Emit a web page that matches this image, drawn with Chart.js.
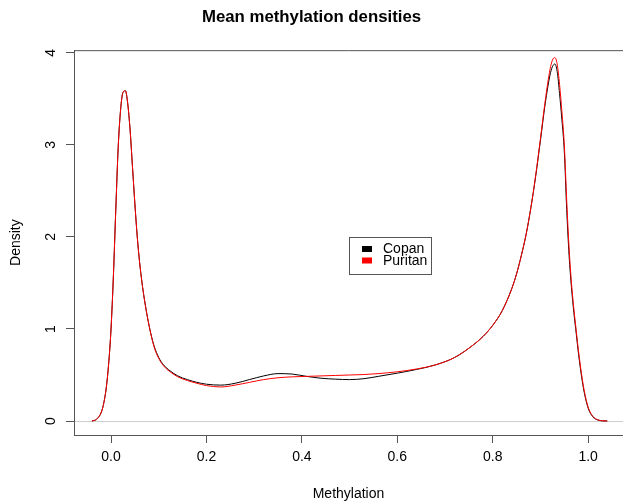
<!DOCTYPE html>
<html>
<head>
<meta charset="utf-8">
<script src="https://cdn.jsdelivr.net/npm/chart.js@4/dist/chart.umd.min.js"></script>
<style>
  html, body { margin: 0; padding: 0; background: #fff; }
  canvas { display: block; }
</style>
</head>
<body>
<canvas id="densityChart" width="623" height="504"></canvas>
<script>
// Data (density estimates)
const methylation = [-0.04, -0.03, -0.02, -0.015, -0.01, -0.005, 0, 0.005, 0.01, 0.015, 0.02, 0.025,
  0.03, 0.035, 0.04, 0.045, 0.05, 0.055, 0.06, 0.065, 0.07, 0.08, 0.09, 0.1, 0.11, 0.12, 0.14, 0.16,
  0.18, 0.2, 0.23, 0.26, 0.29, 0.32, 0.35, 0.38, 0.41, 0.44, 0.47, 0.5, 0.53, 0.56, 0.6, 0.64, 0.68,
  0.72, 0.76, 0.78, 0.8, 0.82, 0.84, 0.85, 0.86, 0.87, 0.88, 0.89, 0.9, 0.91, 0.92, 0.925, 0.93,
  0.935, 0.94, 0.945, 0.95, 0.955, 0.96, 0.965, 0.97, 0.975, 0.98, 0.99, 1.0, 1.01, 1.02, 1.03, 1.04];
const copan = [0, 0.02, 0.1, 0.2, 0.36, 0.62, 1.0, 1.58, 2.3, 2.97, 3.38, 3.57,
  3.59, 3.45, 3.16, 2.76, 2.36, 2.0, 1.72, 1.5, 1.32, 1.03, 0.82, 0.69, 0.61, 0.56, 0.49, 0.45,
  0.42, 0.40, 0.39, 0.41, 0.45, 0.49, 0.515, 0.51, 0.485, 0.465, 0.455, 0.45, 0.46, 0.485, 0.52, 0.56, 0.61,
  0.69, 0.83, 0.92, 1.04, 1.2, 1.44, 1.6, 1.8, 2.03, 2.32, 2.66, 3.05, 3.45, 3.76, 3.85, 3.88,
  3.8, 3.56, 3.27, 2.93, 2.3, 1.8, 1.45, 1.18, 0.95, 0.72, 0.36, 0.14, 0.045, 0.012, 0.002, 0];
const puritan = [0, 0.02, 0.1, 0.2, 0.36, 0.62, 1.0, 1.58, 2.3, 2.97, 3.38, 3.57,
  3.59, 3.45, 3.16, 2.76, 2.36, 2.0, 1.72, 1.5, 1.32, 1.03, 0.81, 0.68, 0.6, 0.55, 0.48, 0.44,
  0.41, 0.385, 0.37, 0.39, 0.42, 0.45, 0.47, 0.48, 0.485, 0.49, 0.495, 0.50, 0.505, 0.515, 0.535, 0.565, 0.61,
  0.69, 0.83, 0.92, 1.04, 1.2, 1.44, 1.6, 1.8, 2.03, 2.32, 2.67, 3.07, 3.48, 3.82, 3.92, 3.95,
  3.88, 3.66, 3.36, 3.0, 2.4, 1.88, 1.5, 1.22, 0.98, 0.75, 0.38, 0.15, 0.05, 0.013, 0.002, 0];
const xTicks = [0, 0.2, 0.4, 0.6, 0.8, 1.0];
const yTicks = [0, 1, 2, 3, 4];

const axisColor = '#555';
const fontFamily = '"Liberation Sans", Arial, sans-serif';

function toPoints(ys) {
  return methylation.map((x, i) => ({ x: x, y: ys[i] }));
}

// Top frame line and legend box (R style)
const framePlugin = {
  id: 'frame',
  afterDraw(chart) {
    const { ctx, chartArea } = chart;
    ctx.save();
    ctx.strokeStyle = axisColor;
    ctx.lineWidth = 1;
    ctx.beginPath();
    ctx.moveTo(chartArea.left, chartArea.top + 0.5);
    ctx.lineTo(chartArea.right, chartArea.top + 0.5);
    ctx.stroke();

    // legend
    ctx.strokeRect(349.5, 237.5, 82, 37);
    ctx.font = '14px ' + fontFamily;
    ctx.textBaseline = 'middle';
    ctx.textAlign = 'left';
    const rows = [249, 260.5];
    chart.data.datasets.slice().sort((a, b) => a.legendIndex - b.legendIndex).forEach((ds, i) => {
      ctx.fillStyle = ds.borderColor;
      ctx.fillRect(362, rows[i] - 3, 10, 6);
      ctx.fillStyle = '#000';
      ctx.fillText(ds.label, 383, rows[i] + 0.5);
    });
    ctx.restore();
  }
};

function initChart() {
  const el = document.getElementById('densityChart');
  new Chart(el, {
    type: 'line',
    data: {
      datasets: [
        {
          label: 'Copan',
          legendIndex: 0,
          data: toPoints(copan),
          borderColor: '#000000',
          borderWidth: 1,
          pointRadius: 0,
          cubicInterpolationMode: 'monotone',
          order: 2
        },
        {
          label: 'Puritan',
          legendIndex: 1,
          data: toPoints(puritan),
          borderColor: '#ff0000',
          borderWidth: 1,
          pointRadius: 0,
          cubicInterpolationMode: 'monotone',
          order: 1
        }
      ]
    },
    options: {
      responsive: false,
      animation: false,
      devicePixelRatio: 1,
      layout: { padding: 0 },
      plugins: {
        legend: { display: false },
        tooltip: { enabled: false },
        title: {
          display: true,
          text: 'Mean methylation densities',
          color: '#000',
          font: { family: fontFamily, size: 16.8, weight: 'bold' },
          padding: { top: 7, bottom: 23 }
        }
      },
      scales: {
        x: {
          type: 'linear',
          min: -0.0776,
          max: 1.073,
          afterFit(scale) { scale.height = 69; },
          afterBuildTicks(scale) { scale.ticks = xTicks.map(v => ({ value: v })); },
          ticks: {
            includeBounds: false,
            color: '#000',
            padding: 6,
            maxRotation: 0,
            font: { family: fontFamily, size: 14 },
            callback: v => v.toFixed(1)
          },
          grid: {
            drawOnChartArea: false,
            drawTicks: true,
            tickLength: 8,
            tickColor: axisColor
          },
          border: { display: true, color: axisColor },
          title: {
            display: true,
            text: 'Methylation',
            color: '#000',
            font: { family: fontFamily, size: 14 },
            padding: { top: 0, bottom: 1 }
          }
        },
        y: {
          type: 'linear',
          min: -0.152,
          max: 4.03,
          afterFit(scale) { scale.width = 74; },
          afterBuildTicks(scale) { scale.ticks = yTicks.map(v => ({ value: v })); },
          ticks: {
            includeBounds: false,
            color: '#000',
            padding: 11,
            minRotation: 90,
            maxRotation: 90,
            crossAlign: 'center',
            font: { family: fontFamily, size: 14 },
            callback: v => String(v)
          },
          grid: {
            drawOnChartArea: true,
            drawTicks: true,
            tickLength: 8,
            tickColor: axisColor,
            color: ctx => (ctx.tick && ctx.tick.value === 0) ? '#cfcfcf' : 'rgba(0,0,0,0)'
          },
          border: { display: true, color: axisColor },
          title: {
            display: true,
            text: 'Density',
            color: '#000',
            font: { family: fontFamily, size: 14 },
            padding: { top: 8, bottom: 0 }
          }
        }
      }
    },
    plugins: [framePlugin]
  });
}

document.addEventListener('DOMContentLoaded', initChart);
</script>
</body>
</html>
